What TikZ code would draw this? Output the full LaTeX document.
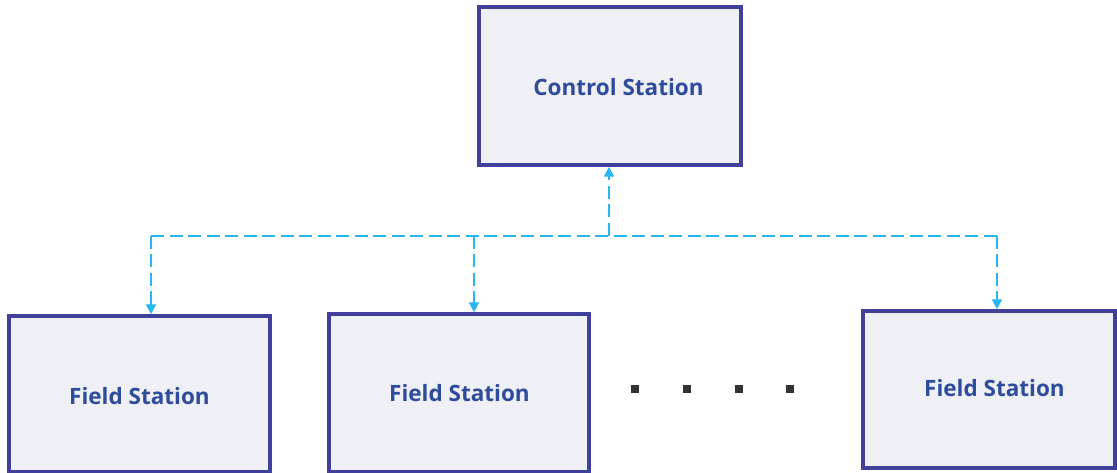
\documentclass[tikz,border=0pt]{standalone}
\usepackage{fontspec}
\setmainfont{Open Sans}
\usetikzlibrary{arrows.meta}
\definecolor{boxline}{HTML}{40409A}
\definecolor{boxfill}{HTML}{EEF0F5}
\definecolor{txt}{HTML}{2F4B9C}
\definecolor{link}{HTML}{29B6F0}
\definecolor{dotc}{HTML}{333333}
\tikzset{
  station/.style={draw=boxline, fill=boxfill, line width=3.5pt, inner sep=0pt},
  lbl/.style={font=\fontsize{22.5}{25}\selectfont\bfseries, text=txt, inner sep=0pt},
  linkline/.style={draw=link, line width=2.1pt, dash pattern=on 13pt off 5.5pt},
  linkarrow/.style={linkline, -{Triangle[width=10pt,length=10pt]}},
  dotbox/.style={fill=dotc, minimum size=8pt, inner sep=0pt}
}
\begin{document}
\begin{tikzpicture}[x=1pt,y=-1pt]
\useasboundingbox (0,0) rectangle (1117,473);
\node[station, minimum width=262pt, minimum height=158pt,
  label={[lbl, xshift=8.5pt, yshift=-1pt]center:Control Station}] (ctrl) at (610,86) {};
\node[station, minimum width=261pt, minimum height=156pt,
  label={[lbl, yshift=-2pt]center:Field Station}] (f1) at (139.5,394) {};
\node[station, minimum width=260pt, minimum height=158pt,
  label={[lbl, xshift=0.5pt, yshift=0pt]center:Field Station}] (f2) at (459,393) {};
\node[station, minimum width=252pt, minimum height=157pt,
  label={[lbl, xshift=5.5pt, yshift=1pt]center:Field Station}] (f3) at (989,389.5) {};
\coordinate (j) at (609,236);
\coordinate (h1) at (151,236);
\coordinate (h2) at (474,236);
\coordinate (h3) at (997,236);
\draw[linkline] (h1) -- (h3);
\draw[linkarrow] (j) -- (j |- ctrl.south);
\draw[linkarrow] (h1) -- (h1 |- f1.north);
\draw[linkarrow] (h2) -- (h2 |- f2.north);
\draw[linkarrow] (h3) -- (h3 |- f3.north);
\node[dotbox] (d1) at (635,389) {};
\node[dotbox] (d2) at (687,389) {};
\node[dotbox] (d3) at (739,389) {};
\node[dotbox] (d4) at (790,389) {};
\end{tikzpicture}
\end{document}
